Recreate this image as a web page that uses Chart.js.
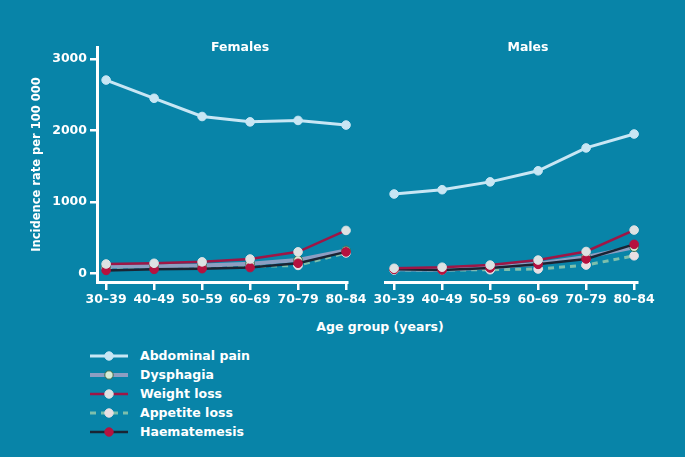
<!DOCTYPE html>
<html>
<head>
<meta charset="utf-8">
<script src="https://cdn.jsdelivr.net/npm/chart.js@4.4.0/dist/chart.umd.min.js"></script>
<style>
  html, body { margin: 0; padding: 0; }
  body { width: 685px; height: 457px; background: #0884a8; position: relative; overflow: hidden;
         font-family: "DejaVu Sans", sans-serif; color: #fff; }
  .box { position: absolute; top: 0; height: 310px; }
  .lbl { position: absolute; font-weight: bold; font-size: 12.5px; white-space: nowrap; transform: translate(-50%, -50%); }
  #legend { position: absolute; left: 90px; top: 346px; }
  #legend div { height: 19px; display: flex; align-items: center; font-weight: bold; font-size: 12.5px; }
  #legend svg { margin-right: 12px; }
</style>
</head>
<body>
<div class="box" style="left:0;width:380px"><canvas id="femmes"></canvas></div>
<div class="box" style="left:365px;width:310px"><canvas id="hommes"></canvas></div>
<div class="lbl" style="left:240px;top:46px">Females</div>
<div class="lbl" style="left:528px;top:46px">Males</div>
<div class="lbl" style="left:380px;top:326px">Age group (years)</div>
<div id="legend"></div>
<script>
// Groupes d'âge (axe x)
const groupes_age = ['30–39', '40–49', '50–59', '60–69', '70–79', '80–84'];
const graduations_y = [0, 1000, 2000, 3000];
const symptomes = ['Abdominal pain', 'Dysphagia', 'Weight loss', 'Appetite loss', 'Haematemesis'];

// Taux d'incidence pour 100 000 - femmes
const douleur_f   = [2705, 2450, 2195, 2120, 2140, 2075];
const dysphagie_f = [95, 100, 110, 135, 185, 320];
const poids_f     = [130, 140, 160, 200, 300, 600];
const appetit_f   = [80, 90, 95, 95, 110, 285];
const hemat_f     = [40, 55, 65, 80, 140, 300];

// Taux d'incidence pour 100 000 - hommes
const douleur_h   = [1110, 1170, 1280, 1435, 1755, 1950];
const dysphagie_h = [55, 50, 80, 135, 230, 365];
const poids_h     = [70, 85, 115, 185, 305, 605];
const appetit_h   = [45, 45, 50, 60, 115, 245];
const hemat_h     = [55, 45, 75, 125, 200, 405];

// Styles des séries
const styles = [
  { couleur: '#c8e6f4', point: '#c8e6f4', bord: '#c8e6f4', epaisseur: 3, tirets: [] },
  { couleur: '#8d9ec2', point: '#d6ecd6', bord: '#3f6b4a', epaisseur: 4, tirets: [] },
  { couleur: '#9e1646', point: '#dde2e3', bord: '#dde2e3', epaisseur: 2.5, tirets: [] },
  { couleur: '#7dbfac', point: '#e9dfe3', bord: '#e9dfe3', epaisseur: 3, tirets: [6, 5] },
  { couleur: '#1a2433', point: '#b5123f', bord: '#b5123f', epaisseur: 2.5, tirets: [] }
];

function points(valeurs) {
  return valeurs.map((v, i) => ({ x: i, y: v }));
}

function jeux(series) {
  return series.map((s, i) => ({
    label: symptomes[i],
    data: points(s),
    borderColor: styles[i].couleur,
    borderWidth: styles[i].epaisseur,
    borderDash: styles[i].tirets,
    pointBackgroundColor: styles[i].point,
    pointBorderColor: styles[i].bord,
    pointBorderWidth: 1,
    pointRadius: 4.3,
    tension: 0,
    clip: false,
    order: [5, 3, 1, 4, 2][i]
  }));
}

const blanc = '#ffffff';
const police = { family: 'DejaVu Sans', size: 12.5, weight: 'bold' };

// gauche / droite : marges pour que la zone du graphique tombe au bon pixel
function config(series, avecAxeY, xmax, gauche, droite) {
  return {
    type: 'line',
    data: { datasets: jeux(series) },
    options: {
      responsive: true,
      maintainAspectRatio: false,
      animation: false,
      layout: { padding: { top: 47, right: droite, left: gauche, bottom: 0 } },
      plugins: { legend: { display: false }, tooltip: { enabled: false } },
      scales: {
        x: {
          type: 'linear',
          min: -0.19,
          max: xmax,
          afterBuildTicks: (s) => { s.ticks = groupes_age.map((g, i) => ({ value: i })); },
          afterFit: (s) => { s.height = 28; s.paddingLeft = 0; s.paddingRight = 0; },
          ticks: { color: blanc, font: police, padding: 2, maxRotation: 0, autoSkip: false,
                   callback: (v) => groupes_age[v] },
          grid: { display: true, drawOnChartArea: false, drawTicks: true, tickLength: 8,
                  color: blanc, lineWidth: 2.5 },
          border: { display: true, color: blanc, width: 3 }
        },
        y: {
          display: avecAxeY,
          min: -122,
          max: 3168,
          afterBuildTicks: (s) => { s.ticks = graduations_y.map(v => ({ value: v })); },
          afterFit: (s) => { s.width = avecAxeY ? 97 : 0; },
          ticks: { color: blanc, font: police, padding: 3, callback: (v) => String(v) },
          grid: { display: true, drawOnChartArea: false, drawTicks: true, tickLength: 7,
                  color: blanc, lineWidth: 2.5 },
          border: { display: true, color: blanc, width: 3 },
          title: { display: true, text: 'Incidence rate per 100 000', color: blanc,
                   font: { family: 'DejaVu Sans', size: 11.5, weight: 'bold' }, padding: { top: 30, bottom: 0 } }
        }
      }
    }
  };
}

// femmes : zone 97..347 ; hommes : zone 385..637
new Chart(document.getElementById('femmes'),
  config([douleur_f, dysphagie_f, poids_f, appetit_f, hemat_f], true, 5.02, 0, 33));
new Chart(document.getElementById('hommes'),
  config([douleur_h, dysphagie_h, poids_h, appetit_h, hemat_h], false, 5.06, 20, 38));

// Légende en bas à gauche
const legende = document.getElementById('legend');
symptomes.forEach((nom, i) => {
  const st = styles[i];
  const ligne = document.createElement('div');
  const dash = st.tirets.length ? `stroke-dasharray="${st.tirets.join(' ')}"` : '';
  ligne.innerHTML =
    `<svg width="38" height="10"><line x1="0" y1="5" x2="38" y2="5" stroke="${st.couleur}" stroke-width="${st.epaisseur}" ${dash}/>` +
    `<circle cx="19" cy="5" r="4.2" fill="${st.point}" stroke="${st.bord}" stroke-width="1"/></svg>${nom}`;
  legende.appendChild(ligne);
});
</script>
</body>
</html>
